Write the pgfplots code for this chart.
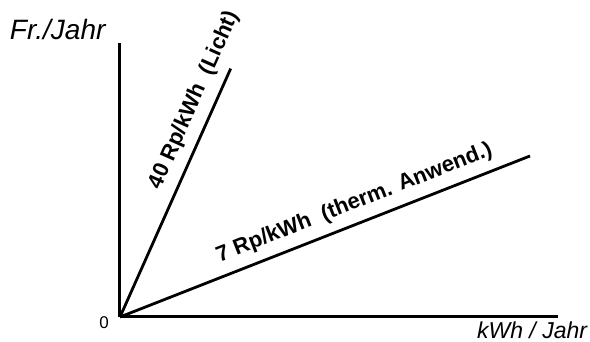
\documentclass[border=0pt]{standalone}
\usepackage{pgfplots}
\pgfplotsset{compat=1.18}
\usepackage{fontspec}
\setmainfont{Liberation Sans}

\begin{document}
\begin{tikzpicture}
% fixed page frame around the origin of the axis
\path[use as bounding box] (-60pt,-12.5pt) rectangle (235pt,158.5pt);
\begin{axis}[
  anchor=origin, at={(0pt,0pt)},
  x=0.205pt, y=1.15pt,
  xmin=0, xmax=1068, ymin=0, ymax=119.1,
  axis lines=left,
  axis line style={-, line width=1.5pt},
  xtick=\empty, ytick=\empty,
  enlargelimits=false,
  clip=false,
]
% cost per year = tariff x energy per year
\addplot[black, line width=1.4pt] coordinates {(0,0) (270,108)}
  node[pos=0.84, sloped, above=1pt, font=\fontsize{11}{13}\selectfont\bfseries]
  {40 Rp/kWh \ (Licht)};
\addplot[black, line width=1.4pt] coordinates {(0,0) (1000,70)}
  node[pos=0.59, sloped, above=1pt, font=\fontsize{11}{13}\selectfont\bfseries]
  {7 Rp/kWh \ (therm. Anwend.)};

\node[font=\fontsize{14}{16}\selectfont\itshape] at (axis cs:-152,124.8) {Fr./Jahr};
\node[font=\fontsize{11.5}{13}\selectfont\itshape] at (axis cs:1005,-5.7) {kWh / Jahr};
\node[font=\fontsize{8.5}{10}\selectfont] at (axis cs:-39,-2.6) {0};
\end{axis}
\end{tikzpicture}
\end{document}
